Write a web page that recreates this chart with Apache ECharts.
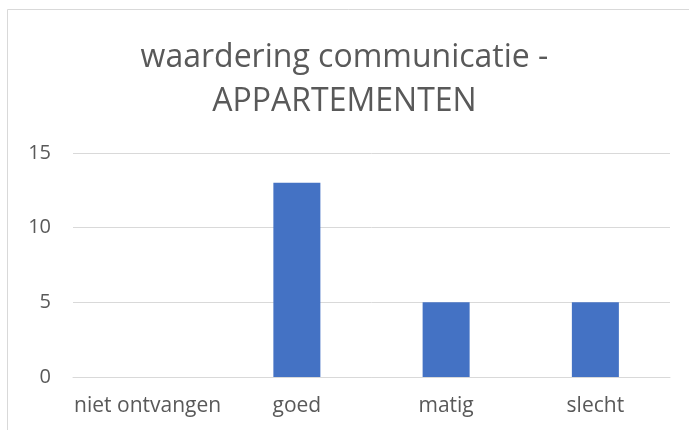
<!DOCTYPE html>
<html>
<head>
<meta charset="utf-8">
<script src="https://cdn.jsdelivr.net/npm/echarts@6/dist/echarts.min.js"></script>
<style>
	html, body { margin: 0; padding: 0; background: #fff; }
	#chart { width: 689px; height: 430px; }
</style>
</head>
<body>
<div id="chart"></div>
<script>
var titleLines = ['waardering communicatie -', 'APPARTEMENTEN'];
var categories = ['niet ontvangen', 'goed', 'matig', 'slecht'];
var values = [0, 13, 5, 5];
var yTicks = [0, 5, 10, 15];

(function () {
	var chart = echarts.init(document.getElementById('chart'));
	var txt = '#595959';
	var font = '"Open Sans", sans-serif';

	var option = {
		backgroundColor: '#fff',
		animation: false,
		title: {
			text: titleLines.join('\n'),
			left: 'center',
			top: 31,
			textStyle: {
				color: txt,
				fontFamily: font,
				fontSize: 32,
				fontWeight: 'normal',
				lineHeight: 44
			}
		},
		// chart-area frame, only top and left edges are visible in the crop
		graphic: [
			{ type: 'line', shape: { x1: 7.5, y1: 9.5, x2: 689, y2: 9.5 }, style: { stroke: '#d9d9d9', lineWidth: 1 } },
			{ type: 'line', shape: { x1: 7.5, y1: 9.5, x2: 7.5, y2: 430 }, style: { stroke: '#d9d9d9', lineWidth: 1 } }
		],
		grid: { left: 73, right: 19, top: 153, bottom: 53 },
		xAxis: {
			type: 'category',
			data: categories,
			axisLine: { show: true, lineStyle: { color: '#d9d9d9', width: 1 } },
			axisTick: { show: false },
			axisLabel: { color: txt, fontFamily: font, fontSize: 21, margin: 19, interval: 0 }
		},
		yAxis: {
			type: 'value',
			min: yTicks[0],
			max: yTicks[yTicks.length - 1],
			interval: 5,
			axisLine: { show: false },
			axisTick: { show: false },
			splitLine: { lineStyle: { color: '#d9d9d9', width: 1 } },
			axisLabel: { color: txt, fontFamily: font, fontSize: 20, margin: 22 }
		},
		series: [{
			type: 'bar',
			data: values,
			barWidth: '31.5%',
			itemStyle: { color: '#4472c4' }
		}]
	};
	chart.setOption(option);
})();
</script>
</body>
</html>
